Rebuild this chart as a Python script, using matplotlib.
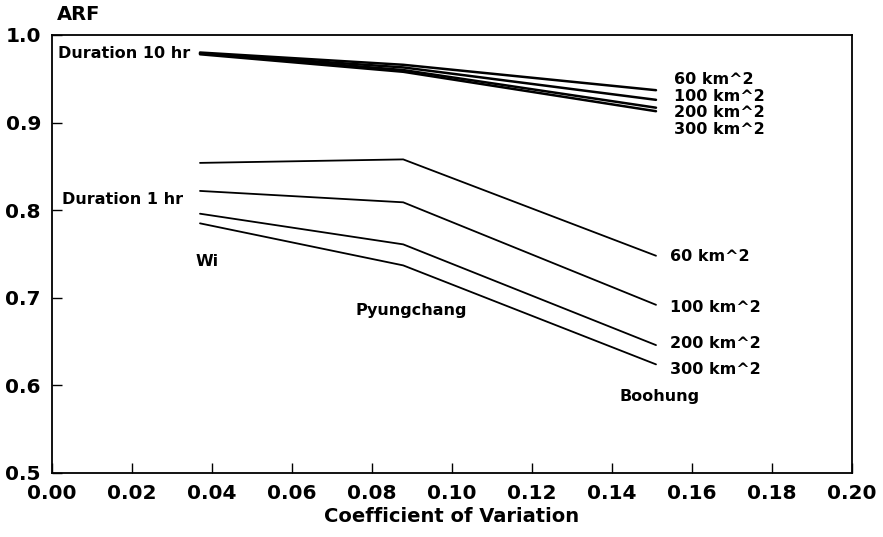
import numpy as np
import matplotlib
matplotlib.use("Agg")
import matplotlib.pyplot as plt

# stations (coefficient of variation)
stations = ['Wi', 'Pyungchang', 'Boohung']
cv = [0.037, 0.0878, 0.151]

areas = ['60 km^2', '100 km^2', '200 km^2', '300 km^2']

# ARF, duration 10 hr
arf_10hr = [
    [0.980, 0.966, 0.937],
    [0.979, 0.963, 0.926],
    [0.979, 0.960, 0.917],
    [0.978, 0.958, 0.913],
]
# ARF, duration 1 hr
arf_1hr = [
    [0.854, 0.858, 0.748],
    [0.822, 0.809, 0.692],
    [0.796, 0.761, 0.646],
    [0.785, 0.737, 0.624],
]

xticks = [0.00, 0.02, 0.04, 0.06, 0.08, 0.10, 0.12, 0.14, 0.16, 0.18, 0.20]
yticks = [0.5, 0.6, 0.7, 0.8, 0.9, 1.0]

plt.rcParams['font.family'] = ['DejaVu Sans']
plt.rcParams['font.weight'] = 'bold'

fig = plt.figure(figsize=(8.83, 5.37), dpi=100)
ax = fig.add_axes([52/883, (537-473)/537, 800/883, (473-35)/537])

for row in arf_10hr:
    ax.plot(cv, row, color='k', lw=1.8, solid_capstyle='round')
for row in arf_1hr:
    ax.plot(cv, row, color='k', lw=1.3, solid_capstyle='round')

ax.set_xlim(0, 0.2)
ax.set_ylim(0.5, 1.0)
ax.set_xticks(xticks)
ax.set_xticklabels(['%.2f' % v for v in xticks])
ax.set_yticks(yticks)
ax.set_yticklabels(['%.1f' % v for v in yticks])
ax.tick_params(direction='in', length=7, width=1, labelsize=14.5, pad=8)
ax.tick_params(axis='y', pad=8)
for s in ax.spines.values():
    s.set_linewidth(1.3)

ax.set_xlabel('Coefficient of Variation', fontsize=14, fontweight='bold', labelpad=3)
fig.text(57/883, 1 - 14/537, 'ARF', fontsize=14, fontweight='bold', va='center', ha='left')

fs = 11.5
ax.text(0.0015, 0.979, 'Duration 10 hr', fontsize=fs, fontweight='bold', va='center')
ax.text(0.0025, 0.812, 'Duration 1 hr', fontsize=fs, fontweight='bold', va='center')

# station names
st_pos = [(0.036, 0.741), (0.0758, 0.686), (0.142, 0.587)]
for name, (x, y) in zip(stations, st_pos):
    ax.text(x, y, name, fontsize=fs, fontweight='bold', va='center')

# area labels
y10 = [0.949, 0.930, 0.911, 0.892]
y1 = [0.747, 0.689, 0.648, 0.618]
for lab, ya, yb in zip(areas, y10, y1):
    ax.text(0.1555, ya, lab, fontsize=fs, fontweight='bold', va='center')
    ax.text(0.1545, yb, lab, fontsize=fs, fontweight='bold', va='center')

fig.savefig('out.png', dpi=100)
